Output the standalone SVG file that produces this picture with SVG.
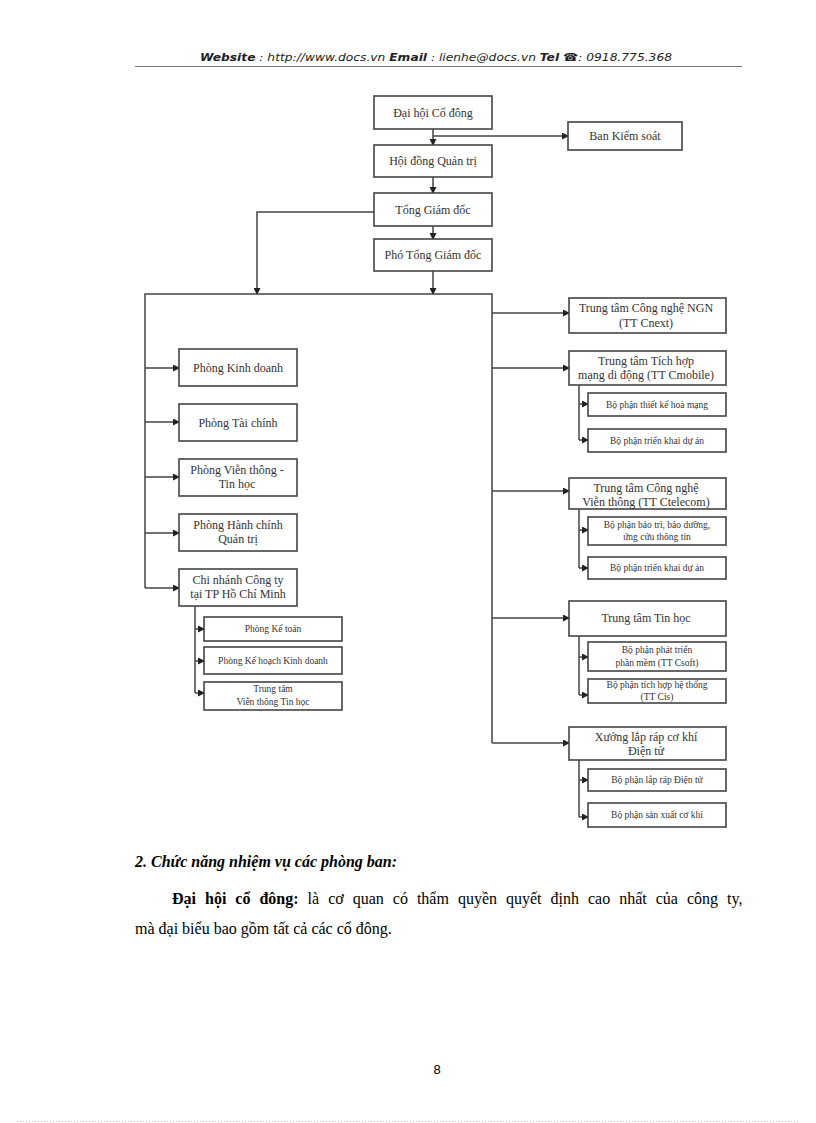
<svg xmlns="http://www.w3.org/2000/svg" width="816" height="1123" viewBox="0 0 816 1123">
<defs>
<style>
.box{fill:#fff;stroke:#444;stroke-width:1.6}
.t{font-family:"Liberation Serif","Times New Roman",serif;font-size:12px;fill:#333;text-anchor:middle}
.s{font-family:"Liberation Serif","Times New Roman",serif;font-size:9.5px;fill:#333;text-anchor:middle}
.c{fill:none;stroke:#444;stroke-width:1.5}
.hd{font-family:"DejaVu Sans","Liberation Sans",sans-serif;font-size:11px;font-style:italic;fill:#222}
.body{font-family:"Liberation Serif","Times New Roman",serif;font-size:16px;fill:#000}
</style>
<marker id="ah" markerWidth="7" markerHeight="7" refX="6" refY="3.5" orient="auto" markerUnits="userSpaceOnUse">
<path d="M0,0 L7,3.5 L0,7 Z" fill="#222"/>
</marker>
</defs>
<rect width="816" height="1123" fill="#fff"/>

<g id="header">
<text class="hd" x="436" y="61" text-anchor="middle" textLength="472" lengthAdjust="spacingAndGlyphs"><tspan font-weight="bold">Website</tspan> : http://www.docs.vn  <tspan font-weight="bold">Email</tspan>  : lienhe@docs.vn   <tspan font-weight="bold">Tel</tspan> ☎: 0918.775.368</text>
<line x1="135" y1="66.5" x2="742" y2="66.5" stroke="#777" stroke-width="1"/>
</g>

<g id="connectors">
<path class="c" d="M433,129 V145" marker-end="url(#ah)"/>
<path class="c" d="M433,136 H568" marker-end="url(#ah)"/>
<path class="c" d="M433,177 V193" marker-end="url(#ah)"/>
<path class="c" d="M433,226 V239" marker-end="url(#ah)"/>
<path class="c" d="M374,212 H257 V294" marker-end="url(#ah)"/>
<path class="c" d="M433,271 V294" marker-end="url(#ah)"/>
<path class="c" d="M145,588 V294 H492 V743"/>
<path class="c" d="M145,368 H179" marker-end="url(#ah)"/>
<path class="c" d="M145,422 H179" marker-end="url(#ah)"/>
<path class="c" d="M145,477 H179" marker-end="url(#ah)"/>
<path class="c" d="M145,533 H179" marker-end="url(#ah)"/>
<path class="c" d="M145,588 H179" marker-end="url(#ah)"/>
<path class="c" d="M195,606 V693"/>
<path class="c" d="M195,629 H204" marker-end="url(#ah)"/>
<path class="c" d="M195,661 H204" marker-end="url(#ah)"/>
<path class="c" d="M195,693 H204" marker-end="url(#ah)"/>
<path class="c" d="M492,313 H569" marker-end="url(#ah)"/>
<path class="c" d="M492,368 H569" marker-end="url(#ah)"/>
<path class="c" d="M492,491 H569" marker-end="url(#ah)"/>
<path class="c" d="M492,618 H569" marker-end="url(#ah)"/>
<path class="c" d="M492,743 H569" marker-end="url(#ah)"/>
<path class="c" d="M579,385 V440"/>
<path class="c" d="M579,404 H588" marker-end="url(#ah)"/>
<path class="c" d="M579,440 H588" marker-end="url(#ah)"/>
<path class="c" d="M579,509 V568"/>
<path class="c" d="M579,530 H588" marker-end="url(#ah)"/>
<path class="c" d="M579,568 H588" marker-end="url(#ah)"/>
<path class="c" d="M579,636 V695"/>
<path class="c" d="M579,657 H588" marker-end="url(#ah)"/>
<path class="c" d="M579,695 H588" marker-end="url(#ah)"/>
<path class="c" d="M579,760 V817"/>
<path class="c" d="M579,780 H588" marker-end="url(#ah)"/>
<path class="c" d="M579,817 H588" marker-end="url(#ah)"/>
</g>

<g id="dai-hoi-co-dong"><rect class="box" x="374" y="96" width="118" height="33"/><text class="t" x="433" y="116.5">Đại hội Cổ đông</text></g>
<g id="ban-kiem-soat"><rect class="box" x="568" y="122" width="114" height="28"/><text class="t" x="625" y="140">Ban Kiểm soát</text></g>
<g id="hoi-dong-quan-tri"><rect class="box" x="374" y="145" width="118" height="32"/><text class="t" x="433" y="165">Hội đồng Quản trị</text></g>
<g id="tong-giam-doc"><rect class="box" x="374" y="193" width="118" height="33"/><text class="t" x="433" y="213.5">Tổng Giám đốc</text></g>
<g id="pho-tong-giam-doc"><rect class="box" x="374" y="239" width="118" height="32"/><text class="t" x="433" y="259">Phó Tổng Giám đốc</text></g>

<g id="phong-kinh-doanh"><rect class="box" x="179" y="349" width="118" height="37"/><text class="t" x="238" y="371.5">Phòng Kinh doanh</text></g>
<g id="phong-tai-chinh"><rect class="box" x="179" y="404" width="118" height="37"/><text class="t" x="238" y="426.5">Phòng Tài chính</text></g>
<g id="phong-vien-thong"><rect class="box" x="179" y="459" width="118" height="37"/><text class="t" x="237" y="474">Phòng Viễn thông -</text><text class="t" x="237" y="488">Tin học</text></g>
<g id="phong-hanh-chinh"><rect class="box" x="179" y="514" width="118" height="37"/><text class="t" x="238" y="529">Phòng Hành chính</text><text class="t" x="238" y="543">Quản trị</text></g>
<g id="chi-nhanh"><rect class="box" x="179" y="569" width="118" height="37"/><text class="t" x="238" y="584">Chi nhánh Công ty</text><text class="t" x="238" y="598">tại TP Hồ Chí Minh</text></g>
<g id="phong-ke-toan"><rect class="box" x="204" y="617" width="138" height="24"/><text class="s" x="273" y="632">Phòng Kế toán</text></g>
<g id="phong-ke-hoach"><rect class="box" x="204" y="647" width="138" height="27"/><text class="s" x="273" y="664">Phòng Kế hoạch Kinh doanh</text></g>
<g id="tt-vien-thong-tin-hoc"><rect class="box" x="204" y="682" width="138" height="28"/><text class="s" x="273" y="692">Trung tâm</text><text class="s" x="273" y="705">Viễn thông Tin học</text></g>

<g id="tt-cnext"><rect class="box" x="569" y="298" width="157" height="35"/><text class="t" x="646" y="312">Trung tâm Công nghệ NGN</text><text class="t" x="646" y="327">(TT Cnext)</text></g>
<g id="tt-cmobile"><rect class="box" x="569" y="351" width="157" height="34"/><text class="t" x="646" y="365">Trung tâm Tích hợp</text><text class="t" x="646" y="379">mạng di động (TT Cmobile)</text></g>
<g id="bp-thiet-ke"><rect class="box" x="588" y="393" width="138" height="23"/><text class="s" x="657" y="407.5">Bộ phận thiết kế hoà mạng</text></g>
<g id="bp-trien-khai-1"><rect class="box" x="588" y="429" width="138" height="23"/><text class="s" x="657" y="443.5">Bộ phận triển khai dự án</text></g>
<g id="tt-ctelecom"><rect class="box" x="569" y="478" width="157" height="31"/><text class="t" x="646" y="492">Trung tâm Công nghệ</text><text class="t" x="646" y="506">Viễn thông (TT Ctelecom)</text></g>
<g id="bp-bao-tri"><rect class="box" x="588" y="517" width="138" height="28"/><text class="s" x="657" y="528">Bộ phận bảo trì, bảo dưỡng,</text><text class="s" x="657" y="540">ứng cứu thông tin</text></g>
<g id="bp-trien-khai-2"><rect class="box" x="588" y="557" width="138" height="22"/><text class="s" x="657" y="571">Bộ phận triển khai dự án</text></g>
<g id="tt-tin-hoc"><rect class="box" x="569" y="601" width="157" height="35"/><text class="t" x="646" y="622">Trung tâm Tin học</text></g>
<g id="bp-phat-trien"><rect class="box" x="588" y="642" width="138" height="29"/><text class="s" x="657" y="653">Bộ phận phát triển</text><text class="s" x="657" y="666">phần mềm (TT Csoft)</text></g>
<g id="bp-tich-hop"><rect class="box" x="588" y="679" width="138" height="24"/><text class="s" x="657" y="688">Bộ phận tích hợp hệ thống</text><text class="s" x="657" y="700">(TT Cis)</text></g>
<g id="xuong-lap-rap"><rect class="box" x="569" y="727" width="157" height="33"/><text class="t" x="646" y="741">Xưởng lắp ráp cơ khí</text><text class="t" x="646" y="755">Điện tử</text></g>
<g id="bp-lap-rap"><rect class="box" x="588" y="769" width="138" height="22"/><text class="s" x="657" y="783">Bộ phận lắp ráp Điện tử</text></g>
<g id="bp-san-xuat"><rect class="box" x="588" y="803" width="138" height="24"/><text class="s" x="657" y="818">Bộ phận sản xuất cơ khí</text></g>

<g id="body-text">
<text class="body" x="135" y="867" font-weight="bold" font-style="italic">2. Chức năng nhiệm vụ các phòng ban:</text>
<text class="body" x="172" y="904" word-spacing="5"><tspan font-weight="bold">Đại hội cổ đông:</tspan> là cơ quan có thẩm quyền quyết định cao nhất của công ty,</text>
<text class="body" x="135" y="934">mà đại biểu bao gồm tất cả các cổ đông.</text>
</g>

<g id="footer">
<text x="437" y="1074" font-family="Liberation Sans, Arial, sans-serif" font-size="13" fill="#000" text-anchor="middle">8</text>
<line x1="17" y1="1121.5" x2="800" y2="1121.5" stroke="#bbb" stroke-width="1" stroke-dasharray="1 2"/>
</g>
</svg>
